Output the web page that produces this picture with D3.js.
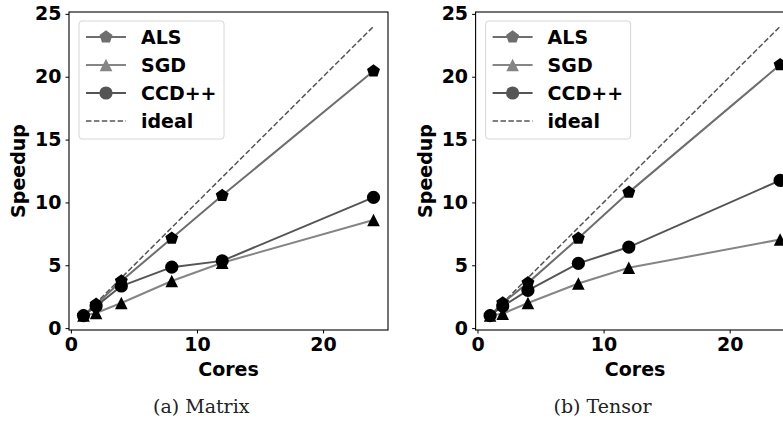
<!DOCTYPE html>
<html>
<head>
<meta charset="utf-8">
<script src="https://cdn.jsdelivr.net/npm/d3@7"></script>
<style>
  body { margin: 0; background: #fff; }
  svg { display: block; }
  text { font-family: "DejaVu Sans", sans-serif; font-weight: bold; fill: #000; }
  .caption { font-family: "DejaVu Serif", serif; font-weight: normal; fill: #222; }
</style>
</head>
<body>
<div id="chart"></div>
<script>
// data
const cores = [1, 2, 4, 8, 12, 24];
const matrixALS = [1.0, 1.9, 3.75, 7.15, 10.55, 20.45];
const matrixSGD = [1.0, 1.2, 2.0, 3.75, 5.2, 8.6];
const matrixCCD = [1.0, 1.75, 3.35, 4.85, 5.35, 10.4];
const tensorALS = [1.0, 2.0, 3.6, 7.15, 10.8, 20.95];
const tensorSGD = [1.0, 1.15, 2.0, 3.55, 4.8, 7.05];
const tensorCCD = [1.0, 1.75, 3.0, 5.15, 6.45, 11.75];
const idealX = [1, 24];
const idealY = [1, 24];

const seriesNames = ["ALS", "SGD", "CCD++"];
const xTicks = [0, 10, 20];
const yTicks = [0, 5, 10, 15, 20, 25];

const lineColors = {"ALS": "#6e6e6e", "SGD": "#858585", "CCD++": "#555555"};
const markerKind = {"ALS": "pentagon", "SGD": "triangle", "CCD++": "circle"};

var width = 783, height = 421;
var fontSize = 19;

var svg = d3.select("#chart")
  .append("svg")
    .attr("width", width)
    .attr("height", height);

// marker path centred on 0,0
function markerPath(kind, r) {
  if (kind === "circle") {
    return d3.symbol().type(d3.symbolCircle).size(Math.PI * r * r)();
  }
  if (kind === "triangle") {
    return "M0," + (-r) + "L" + r + "," + r + "L" + (-r) + "," + r + "Z";
  }
  // regular pentagon, point up
  var pts = d3.range(5).map(function(i) {
    var a = -Math.PI / 2 + i * 2 * Math.PI / 5;
    return [r * Math.cos(a), r * Math.sin(a)];
  });
  return "M" + pts.map(function(p) { return p[0] + "," + p[1]; }).join("L") + "Z";
}

var markerSize = {"pentagon": 6.8, "triangle": 6.3, "circle": 6.6};

function drawPanel(offsetX, data, caption) {
  var left = 69 + offsetX, right = 388 + offsetX, top = 12, bottom = 330;

  var x = d3.scaleLinear().domain([-0.15, 25.15]).range([left, right]);
  var y = d3.scaleLinear().domain([-0.15, 25.15]).range([bottom, top]);

  var g = svg.append("g");

  // spines
  g.append("rect")
    .attr("x", left).attr("y", top)
    .attr("width", right - left).attr("height", bottom - top)
    .attr("fill", "none").attr("stroke", "#000").attr("stroke-width", 1.1);

  // axes
  var xAxis = g.append("g")
    .attr("transform", "translate(0," + bottom + ")")
    .call(d3.axisBottom(x).tickValues(xTicks).tickSize(3.5).tickPadding(4));
  var yAxis = g.append("g")
    .attr("transform", "translate(" + left + ",0)")
    .call(d3.axisLeft(y).tickValues(yTicks).tickSize(3.5).tickPadding(4));
  [xAxis, yAxis].forEach(function(ax) {
    ax.select(".domain").remove();
    ax.selectAll("line").attr("stroke", "#000");
    ax.selectAll("text")
      .attr("font-size", fontSize)
      .attr("font-family", "DejaVu Sans")
      .attr("font-weight", "bold")
      .attr("fill", "#000");
  });
  xAxis.selectAll("text").attr("dy", "0.7em");

  g.append("text")
    .attr("x", (left + right) / 2)
    .attr("y", 376)
    .attr("text-anchor", "middle")
    .attr("font-size", fontSize)
    .text("Cores");

  g.append("text")
    .attr("transform", "translate(" + (25 + offsetX) + "," + ((top + bottom) / 2) + ") rotate(-90)")
    .attr("text-anchor", "middle")
    .attr("font-size", fontSize)
    .text("Speedup");

  var clip = "clip" + offsetX.toFixed(0);
  svg.append("clipPath").attr("id", clip)
    .append("rect").attr("x", left).attr("y", top)
    .attr("width", right - left).attr("height", bottom - top);

  var plot = g.append("g").attr("clip-path", "url(#" + clip + ")");

  var line = d3.line()
    .x(function(d) { return x(d[0]); })
    .y(function(d) { return y(d[1]); });

  // ideal
  plot.append("path")
    .attr("d", line(d3.zip(idealX, idealY)))
    .attr("fill", "none")
    .attr("stroke", "#555")
    .attr("stroke-width", 1.5)
    .attr("stroke-dasharray", "5.5,2.4");

  seriesNames.forEach(function(name) {
    var pts = d3.zip(cores, data[name]);
    plot.append("path")
      .attr("d", line(pts))
      .attr("fill", "none")
      .attr("stroke", lineColors[name])
      .attr("stroke-width", 2);
    var kind = markerKind[name];
    plot.selectAll(null)
      .data(pts)
      .enter()
      .append("path")
      .attr("transform", function(d) { return "translate(" + x(d[0]) + "," + y(d[1]) + ")"; })
      .attr("d", markerPath(kind, markerSize[kind]))
      .attr("fill", "#000");
  });

  // legend
  var lg = g.append("g").attr("transform", "translate(" + (79 + offsetX) + ",21)");
  lg.append("rect")
    .attr("width", 145).attr("height", 118)
    .attr("rx", 3)
    .attr("fill", "#fff").attr("fill-opacity", 0.8)
    .attr("stroke", "#d6d6d6").attr("stroke-width", 1);

  var entries = seriesNames.concat(["ideal"]);
  entries.forEach(function(name, i) {
    var ey = 16 + i * 28;
    var item = lg.append("g").attr("transform", "translate(0," + ey + ")");
    if (name === "ideal") {
      item.append("line")
        .attr("x1", 7).attr("x2", 47)
        .attr("stroke", "#555").attr("stroke-width", 1.5)
        .attr("stroke-dasharray", "5.5,2.4");
    } else {
      item.append("line")
        .attr("x1", 7).attr("x2", 47)
        .attr("stroke", lineColors[name]).attr("stroke-width", 2);
      var kind = markerKind[name];
      item.append("path")
        .attr("transform", "translate(27,0)")
        .attr("d", markerPath(kind, markerSize[kind]))
        .attr("fill", lineColors[name]);
    }
    item.append("text")
      .attr("x", 62)
      .attr("dy", "0.36em")
      .attr("font-size", fontSize)
      .text(name);
  });

  svg.append("text")
    .attr("class", "caption")
    .attr("x", 153 + offsetX * 0.985)
    .attr("y", 413)
    .attr("font-size", 19)
    .text(caption);
}

drawPanel(0, {"ALS": matrixALS, "SGD": matrixSGD, "CCD++": matrixCCD}, "(a) Matrix");
drawPanel(406.6, {"ALS": tensorALS, "SGD": tensorSGD, "CCD++": tensorCCD}, "(b) Tensor");
</script>
</body>
</html>
